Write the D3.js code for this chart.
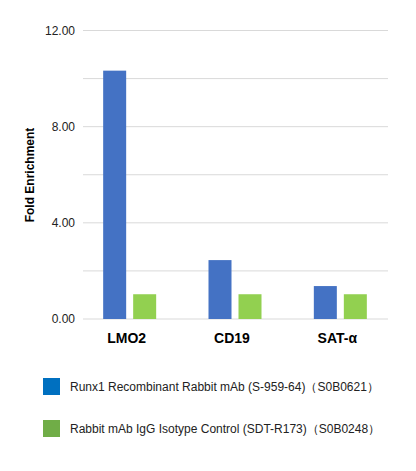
<!DOCTYPE html>
<html><head><meta charset="utf-8">
<script src="https://cdn.jsdelivr.net/npm/d3@7"></script>
<style>body{margin:0;background:#fff}svg{font-family:"Liberation Sans",Arial,sans-serif}</style>
</head><body><svg id="c"></svg>
<script>
const categories = ["LMO2", "CD19", "SAT-α"];
const seriesNames = ["Runx1 Recombinant Rabbit mAb (S-959-64)（S0B0621）", "Rabbit mAb IgG Isotype Control (SDT-R173)（S0B0248）"];
const runx1 = [10.33, 2.45, 1.37];
const igg = [1.03, 1.03, 1.03];
const yTicks = [0, 4, 8, 12];
const gridTicks = [0, 2, 4, 6, 8, 10, 12];

const W = 416, H = 471;
const barColors = ["#4472c4", "#92d050"];
const legendColors = ["#0070c0", "#70ad47"];
const svg = d3.select("#c").attr("width", W).attr("height", H);

const x = d3.scaleBand().domain(categories).range([77, 393]);
const y = d3.scaleLinear().domain([0, 12]).range([319, 30.5]);

svg.append("g").selectAll("line").data(gridTicks).join("line")
  .attr("x1", 83).attr("x2", 388)
  .attr("y1", d => y(d)).attr("y2", d => y(d))
  .attr("stroke", "#d9d9d9").attr("stroke-width", 1);

svg.append("g").selectAll("text").data(yTicks).join("text")
  .attr("x", 75).attr("y", d => y(d) + 4).attr("text-anchor", "end")
  .attr("font-size", 12).attr("fill", "#222")
  .text(d => d.toFixed(2));

svg.append("text").attr("transform", "translate(34,175) rotate(-90)")
  .attr("text-anchor", "middle").attr("font-size", 12).attr("font-weight", "bold")
  .text("Fold Enrichment");

const bw = 23, gap = 7;
[runx1, igg].forEach((vals, i) => {
  svg.append("g").selectAll("rect").data(vals).join("rect")
    .attr("x", (d, j) => x(categories[j]) + x.bandwidth() / 2 - gap / 2 - bw + i * (bw + gap))
    .attr("y", d => y(d)).attr("width", bw)
    .attr("height", d => y(0) - y(d))
    .attr("fill", barColors[i]);
});

svg.append("g").selectAll("text").data(categories).join("text")
  .attr("x", d => x(d) + x.bandwidth() / 2 - 3).attr("y", 343)
  .attr("text-anchor", "middle").attr("font-size", 14).attr("font-weight", "bold")
  .text(d => d);

seriesNames.forEach((name, i) => {
  const ly = 378 + i * 42;
  svg.append("rect").attr("x", 43).attr("y", ly).attr("width", 17).attr("height", 17)
    .attr("fill", legendColors[i]);
  svg.append("text").attr("x", 70).attr("y", ly + 13).attr("font-size", 12)
    .attr("fill", "#222").text(name);
});
</script></body></html>
